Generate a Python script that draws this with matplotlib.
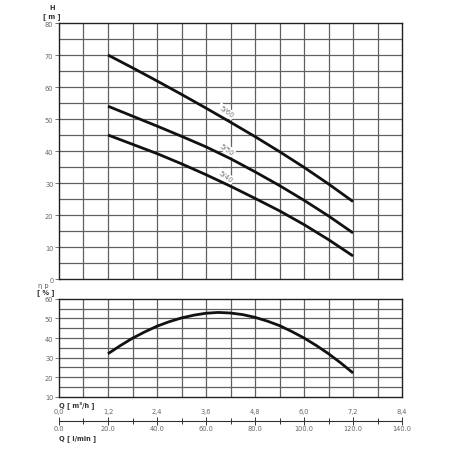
import matplotlib
matplotlib.use('Agg')
import matplotlib.pyplot as plt

# flow in l/min, heads in m, efficiency in %
q = [20, 30, 40, 50, 60, 70, 80, 90, 100, 110, 120]
h_560 = [70, 66.0, 61.9, 57.7, 53.4, 49.0, 44.5, 39.8, 34.9, 29.7, 24.2]
h_550 = [54, 50.9, 47.8, 44.6, 41.3, 37.6, 33.5, 29.2, 24.6, 19.7, 14.4]
h_540 = [45, 42.1, 39.2, 36.0, 32.6, 29.0, 25.2, 21.3, 17.0, 12.3, 7.2]
q_eff = [20, 25, 30, 35, 40, 45, 50, 55, 60, 65, 70, 75, 80, 85, 90, 95, 100, 105, 110, 115, 120]
eff = [32, 36.1, 39.9, 43.1, 46, 48.3, 50.2, 51.6, 52.6, 53.0, 52.7, 51.9, 50.5, 48.6, 46.3, 43.3, 40, 36.2, 32.0, 27.3, 22.2]

curve_labels = ['5/60', '5/50', '5/40']
label_pos = [(68.2, 52.4), (68.4, 40.7), (68.0, 32.0)]

lmin_ticks = [0, 20, 40, 60, 80, 100, 120, 140]
lmin_labels = ['0.0', '20.0', '40.0', '60.0', '80.0', '100.0', '120.0', '140.0']
m3h_labels = ['0,0', '1,2', '2,4', '3,6', '4,8', '6,0', '7,2', '8,4']

grid_c = '#606060'
tick_c = '#666666'
fs = 4.8

fig = plt.figure(figsize=(4.52, 4.52), dpi=100)
ax1 = fig.add_axes([0.1305, 0.3805, 0.759, 0.5664])
ax2 = fig.add_axes([0.1305, 0.1195, 0.759, 0.2175])
ax3 = fig.add_axes([0.1305, 0.0664, 0.759, 0.0001])

for ax, ylim, ystep in [(ax1, (0, 80), 5), (ax2, (10, 60), 5)]:
	ax.set_xlim(0, 140)
	ax.set_ylim(*ylim)
	for x in range(10, 140, 10):
		ax.axvline(x, color=grid_c, lw=0.9, zorder=1)
	for y in range(ylim[0] + ystep, ylim[1], ystep):
		ax.axhline(y, color=grid_c, lw=0.9, zorder=1)
	ax.set_xticks([])
	ax.set_yticks(range(ylim[0], ylim[1] + 1, 10))
	ax.tick_params(axis='y', length=3, width=0.6, color=grid_c, labelsize=fs,
		labelcolor=tick_c, pad=1)
	for s in ax.spines.values():
		s.set_color('#222222')
		s.set_linewidth(1.0)

for h in [h_560, h_550, h_540]:
	ax1.plot(q, h, color='#111111', lw=2, zorder=5, solid_capstyle='butt',
		solid_joinstyle='round')
for lab, (x, y) in zip(curve_labels, label_pos):
	ax1.text(x, y, lab, fontsize=5, color='#777777', rotation=-36,
		ha='center', va='center', zorder=4,
		bbox=dict(boxstyle='square,pad=0.2', fc='white', ec='none'))

ax2.plot(q_eff, eff, color='#111111', lw=2, zorder=5, solid_capstyle='butt',
	solid_joinstyle='round')

fig.text(0.115, 0.982, 'H', fontsize=fs, fontweight='bold', ha='center', va='center', color='#333333')
fig.text(0.115, 0.964, '[ m ]', fontsize=fs, fontweight='bold', ha='center', va='center', color='#333333')
fig.text(0.095, 0.368, 'η p', fontsize=fs, ha='center', va='center', color='#555555')
fig.text(0.101, 0.352, '[ % ]', fontsize=fs, fontweight='bold', ha='center', va='center', color='#333333')

# flow scale below the charts
ax3.set_xlim(0, 140)
ax3.set_yticks([])
for k in ['top', 'left', 'right']:
	ax3.spines[k].set_visible(False)
ax3.spines['bottom'].set_color('#333333')
ax3.spines['bottom'].set_linewidth(0.8)
ax3.set_xticks(range(0, 141, 10), minor=True)
ax3.set_xticks(lmin_ticks)
ax3.set_xticklabels(lmin_labels)
ax3.tick_params(axis='x', which='both', direction='inout', length=4, width=0.7,
	color='#333333', labelsize=fs, labelcolor=tick_c, pad=0)
ax3.tick_params(axis='x', which='major', length=6)
top = ax3.twiny()
top.set_xlim(0, 140)
top.set_yticks([])
for s in top.spines.values():
	s.set_visible(False)
top.set_xticks(lmin_ticks)
top.set_xticklabels(m3h_labels)
top.tick_params(axis='x', length=0, labelsize=fs, labelcolor=tick_c, pad=5)

fig.text(0.1305, 0.103, 'Q [ m³/h ]', fontsize=fs, fontweight='bold', ha='left', va='center', color='#333333')
fig.text(0.1305, 0.029, 'Q [ l/min ]', fontsize=fs, fontweight='bold', ha='left', va='center', color='#333333')

plt.savefig('out.png', dpi=100)
